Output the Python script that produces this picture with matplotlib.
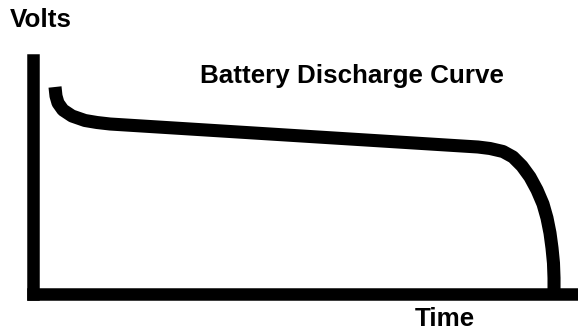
import matplotlib
matplotlib.use("Agg")
import matplotlib.pyplot as plt

plt.rcParams['font.family'] = ['Liberation Sans', 'DejaVu Sans']

# discharge curve, time vs volts (arbitrary units 0-100)
time = [4.04, 4.22, 4.59, 5.50, 7.16, 9.54, 11.74, 14.13,
        81.65, 83.85, 86.24, 88.07, 89.72, 91.19, 92.48, 93.58,
        94.31, 94.86, 95.23, 95.50, 95.60, 95.60]
volts = [88.44, 84.58, 81.58, 78.59, 76.02, 74.09, 73.23, 72.59,
         62.74, 62.10, 60.81, 58.46, 54.60, 49.89, 44.33, 38.33,
         32.33, 25.91, 19.49, 13.06, 6.64, 0.0]

title = "Battery Discharge Curve"
xlab = "Time"
ylab = "Volts"

W, H = 578, 331
fig = plt.figure(figsize=(W / 100, H / 100), dpi=100)
ax = fig.add_axes([33 / W, 37.5 / H, 1 - 33 / W, (271 - 37.5) / H])

ax.plot(time, volts, color='black', lw=9.4, solid_capstyle='butt',
        solid_joinstyle='round')
ax.set_xlim(0, 100)
ax.set_ylim(0, 100)

for s in ['top', 'right']:
    ax.spines[s].set_visible(False)
for s in ['left', 'bottom']:
    ax.spines[s].set_linewidth(9.0)
    ax.spines[s].set_capstyle('projecting')
ax.set_xticks([])
ax.set_yticks([])

fs = 18.7
fig.text(10 / W, 1 - 27 / H, ylab, fontsize=fs, fontweight='bold', va='baseline')
fig.text(200 / W, 1 - 83 / H, title, fontsize=fs, fontweight='bold', va='baseline')
fig.text(415 / W, 1 - 326 / H, xlab, fontsize=fs, fontweight='bold', va='baseline')

fig.savefig('out.png', dpi=100)
